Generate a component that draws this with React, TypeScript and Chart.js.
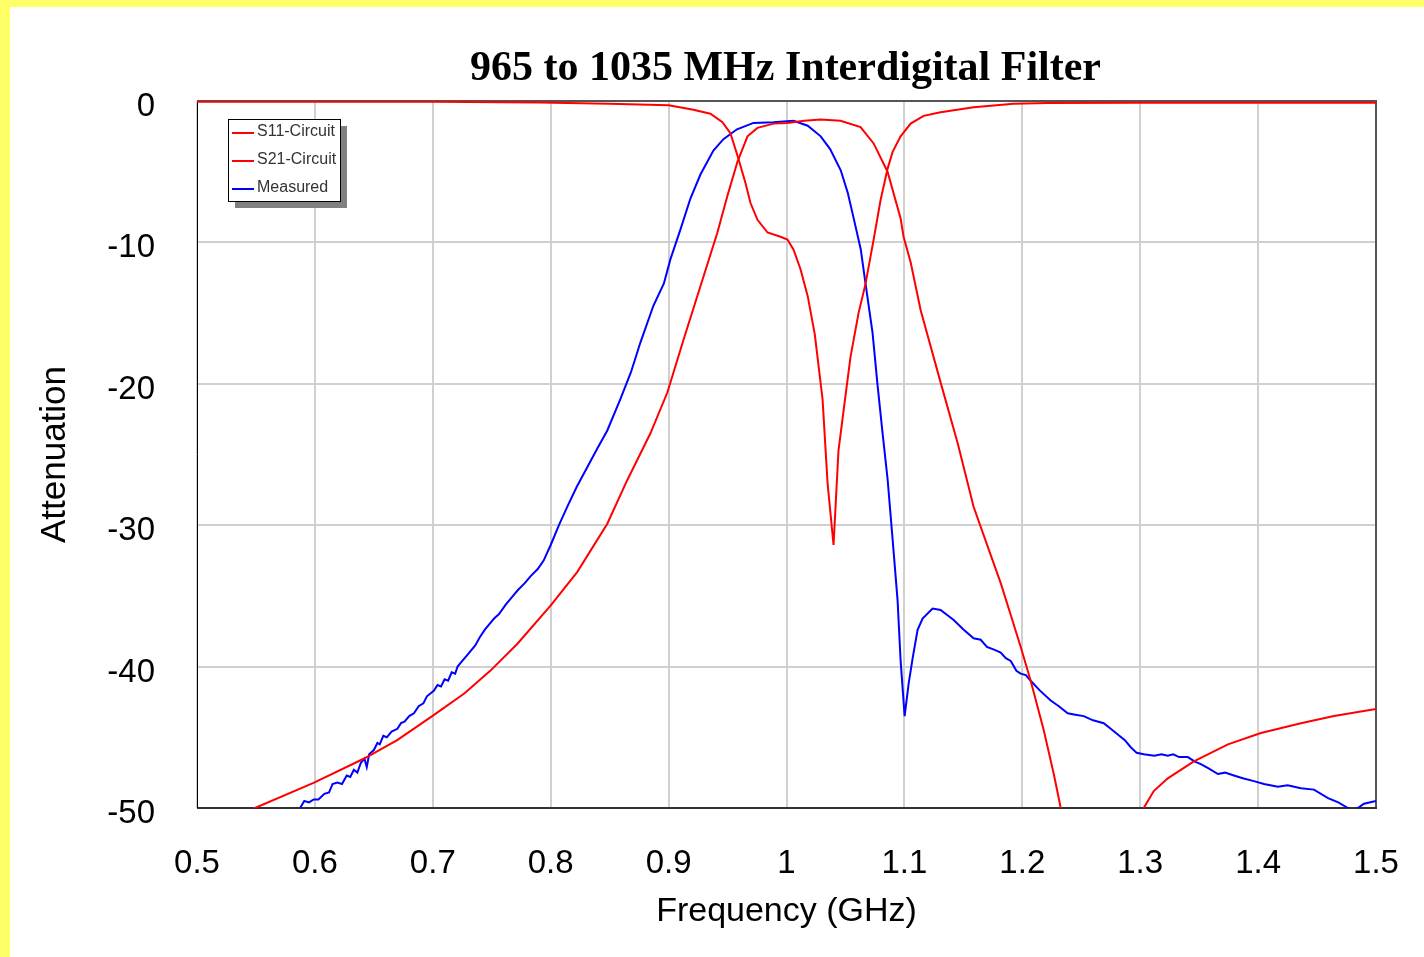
import React, { useEffect, useRef } from 'react';
import { Chart, registerables } from 'chart.js';

Chart.register(...registerables);

const chartTitle = '965 to 1035 MHz Interdigital Filter';
const xAxisTitle = 'Frequency (GHz)';
const yAxisTitle = 'Attenuation';
const xTickLabels = ['0.5', '0.6', '0.7', '0.8', '0.9', '1', '1.1', '1.2', '1.3', '1.4', '1.5'];
const yTickLabels = ['-50', '-40', '-30', '-20', '-10', '0'];
const seriesNames = ['S11-Circuit', 'S21-Circuit', 'Measured'];
const seriesColors = ['#ff0000', '#ff0000', '#0000ff'];

const s11Freq = [0.5, 0.7, 0.79, 0.85, 0.9, 0.92, 0.9355, 0.9457, 0.9525, 0.9593, 0.9652, 0.9694, 0.9754, 0.9839, 0.9949, 1.0008, 1.0059, 1.0119, 1.018, 1.024, 1.0306, 1.0348, 1.0399, 1.0441, 1.0501, 1.0543, 1.0611, 1.0671, 1.0739, 1.0798, 1.0857, 1.09, 1.0968, 1.1053, 1.1163, 1.1307, 1.1587, 1.1927, 1.2216, 1.3, 1.5];
const s11Db = [-0.05, -0.06, -0.1, -0.2, -0.3, -0.6, -0.9, -1.5, -2.3, -4.1, -5.8, -7.2, -8.4, -9.3, -9.6, -9.8, -10.5, -11.9, -13.8, -16.5, -21.1, -27, -31.4, -24.7, -20.8, -18.1, -15, -12.9, -9.8, -7, -4.8, -3.6, -2.5, -1.6, -1.05, -0.8, -0.45, -0.2, -0.15, -0.12, -0.12];

const s21Freq = [0.5, 0.5492, 0.5993, 0.6418, 0.6698, 0.6995, 0.7267, 0.7487, 0.7716, 0.7997, 0.8226, 0.848, 0.865, 0.8846, 0.899, 0.9126, 0.927, 0.9414, 0.9499, 0.9584, 0.9669, 0.9754, 0.989, 1.0008, 1.015, 1.0289, 1.0458, 1.0628, 1.0739, 1.0857, 1.0968, 1.0993, 1.1053, 1.1138, 1.1307, 1.1452, 1.1587, 1.1749, 1.1817, 1.19, 1.1986, 1.2071, 1.2182, 1.2267, 1.2326, 1.255, 1.28, 1.303, 1.3115, 1.3234, 1.3455, 1.3744, 1.4024, 1.4363, 1.4643, 1.5];
const s21Db = [-51.8, -50, -48.2, -46.5, -45.2, -43.5, -41.9, -40.3, -38.4, -35.7, -33.3, -29.9, -26.8, -23.5, -20.6, -16.9, -13.1, -9.3, -6.7, -4.3, -2.5, -1.9, -1.6, -1.55, -1.4, -1.3, -1.4, -1.85, -3.0, -5.0, -8.3, -9.6, -11.4, -14.8, -19.9, -24.2, -28.7, -32.5, -34.1, -36.3, -38.6, -41.0, -44.5, -47.6, -50, -58, -56, -50, -48.8, -47.9, -46.7, -45.5, -44.7, -44.0, -43.5, -43.0];

const measFreq = [0.587, 0.5874, 0.591, 0.595, 0.599, 0.603, 0.608, 0.612, 0.615, 0.619, 0.623, 0.627, 0.63, 0.633, 0.636, 0.639, 0.642, 0.644, 0.646, 0.65, 0.653, 0.655, 0.658, 0.661, 0.665, 0.67, 0.673, 0.676, 0.68, 0.684, 0.688, 0.692, 0.695, 0.698, 0.701, 0.704, 0.707, 0.71, 0.713, 0.716, 0.719, 0.721, 0.725, 0.729, 0.732, 0.736, 0.74, 0.744, 0.748, 0.752, 0.756, 0.762, 0.767, 0.772, 0.778, 0.783, 0.789, 0.794, 0.8, 0.807, 0.814, 0.822, 0.831, 0.84, 0.848, 0.859, 0.868, 0.876, 0.887, 0.896, 0.9015, 0.91, 0.9185, 0.927, 0.938, 0.9465, 0.958, 0.972, 0.989, 1.006, 1.018, 1.029, 1.037, 1.046, 1.052, 1.057, 1.063, 1.067, 1.073, 1.077, 1.0815, 1.0857, 1.09, 1.0942, 1.0968, 1.1002, 1.1036, 1.107, 1.1112, 1.1154, 1.1239, 1.1307, 1.1418, 1.1503, 1.1587, 1.1647, 1.17, 1.176, 1.1817, 1.186, 1.1902, 1.195, 1.1986, 1.203, 1.2071, 1.215, 1.2241, 1.231, 1.2385, 1.245, 1.2521, 1.26, 1.2691, 1.275, 1.281, 1.287, 1.292, 1.297, 1.303, 1.312, 1.318, 1.3234, 1.328, 1.333, 1.3404, 1.346, 1.3514, 1.358, 1.3659, 1.372, 1.3795, 1.387, 1.3964, 1.405, 1.4168, 1.425, 1.4363, 1.4474, 1.4593, 1.468, 1.4762, 1.4813, 1.4898, 1.5];
const measDb = [-50.2, -50, -49.5, -49.6, -49.4, -49.4, -49.0, -48.9, -48.3, -48.2, -48.3, -47.7, -47.8, -47.3, -47.5, -46.8, -46.5, -47.1, -46.2, -45.9, -45.4, -45.5, -44.9, -45.0, -44.6, -44.4, -44.0, -43.9, -43.5, -43.3, -42.8, -42.6, -42.1, -41.9, -41.7, -41.3, -41.4, -40.9, -41.0, -40.4, -40.5, -40.0, -39.6, -39.2, -38.9, -38.5, -37.9, -37.4, -37.0, -36.6, -36.3, -35.6, -35.1, -34.6, -34.1, -33.6, -33.1, -32.5, -31.4, -30.0, -28.7, -27.3, -25.9, -24.5, -23.3, -21.1, -19.2, -17.1, -14.5, -12.9, -11.2, -9.1, -6.9, -5.2, -3.5, -2.7, -2.0, -1.55, -1.5, -1.4, -1.75, -2.5, -3.4, -4.9, -6.5, -8.3, -10.5, -12.9, -16.4, -19.9, -23.5, -26.7, -31.0, -35.3, -39.6, -43.5, -41.2, -39.4, -37.4, -36.6, -35.9, -36.0, -36.7, -37.4, -38.0, -38.1, -38.6, -38.8, -39.0, -39.4, -39.6, -40.3, -40.5, -40.6, -41.0, -41.7, -42.4, -42.8, -43.3, -43.4, -43.5, -43.8, -44.0, -44.4, -44.8, -45.2, -45.7, -46.1, -46.2, -46.3, -46.2, -46.3, -46.2, -46.4, -46.4, -46.7, -46.9, -47.2, -47.6, -47.5, -47.7, -47.9, -48.1, -48.3, -48.5, -48.4, -48.6, -48.7, -49.3, -49.6, -50.0, -50.2, -49.7, -49.5];

const toPoints = (xs: number[], ys: number[]) => xs.map((x, i) => ({ x, y: ys[i] }));

const framePlugin = {
  id: 'frame',
  beforeDraw(chart: any) {
    const { ctx, width, height } = chart;
    ctx.save();
    ctx.fillStyle = '#ffffff';
    ctx.fillRect(0, 0, width, height);
    ctx.fillStyle = '#ffff66';
    ctx.fillRect(0, 0, width, 7);
    ctx.fillRect(0, 0, 10, height);
    ctx.restore();
  },
  beforeDatasetsDraw(chart: any) {
    const { ctx, chartArea: a } = chart;
    ctx.save();
    ctx.lineWidth = 2;
    ctx.strokeStyle = '#555555';
    ctx.beginPath();
    ctx.moveTo(a.left, a.top);
    ctx.lineTo(a.right, a.top);
    ctx.lineTo(a.right, a.bottom);
    ctx.stroke();
    ctx.strokeStyle = '#333333';
    ctx.beginPath();
    ctx.moveTo(a.left, a.bottom);
    ctx.lineTo(a.right + 1, a.bottom);
    ctx.stroke();
    ctx.lineWidth = 1;
    ctx.strokeStyle = '#000000';
    ctx.beginPath();
    ctx.moveTo(a.left + 0.5, a.top);
    ctx.lineTo(a.left + 0.5, a.bottom);
    ctx.stroke();
    ctx.restore();
  },
  afterDraw(chart: any) {
    const { ctx, chartArea: a } = chart;
    ctx.save();
    // title
    ctx.fillStyle = '#000000';
    ctx.font = 'bold 42px "Liberation Serif", "Times New Roman", serif';
    ctx.textAlign = 'center';
    ctx.textBaseline = 'alphabetic';
    ctx.fillText(chartTitle, (a.left + a.right) / 2 - 1, 80);
    // legend
    const bx = 228, by = 119, bw = 112, bh = 82;
    ctx.fillStyle = '#808080';
    ctx.fillRect(bx + 7, by + 7, bw, bh);
    ctx.fillStyle = '#ffffff';
    ctx.fillRect(bx, by, bw, bh);
    ctx.strokeStyle = '#000000';
    ctx.lineWidth = 1;
    ctx.strokeRect(bx + 0.5, by + 0.5, bw, bh);
    ctx.font = '16px "Liberation Sans", Arial, sans-serif';
    ctx.textAlign = 'left';
    ctx.textBaseline = 'middle';
    chart.data.datasets.forEach((ds: any, i: number) => {
      const y = by + 14 + i * 28;
      ctx.strokeStyle = ds.borderColor;
      ctx.lineWidth = 2;
      ctx.beginPath();
      ctx.moveTo(bx + 4, y);
      ctx.lineTo(bx + 26, y);
      ctx.stroke();
      ctx.fillStyle = '#333333';
      ctx.fillText(ds.label, bx + 29, y - 1);
    });
    ctx.restore();
  },
};

export default function App() {
  const canvasRef = useRef<HTMLCanvasElement | null>(null);

  useEffect(() => {
    const canvas = canvasRef.current;
    if (!canvas) return;
    const chart = new Chart(canvas, {
      type: 'line',
      data: {
        datasets: [
          { label: seriesNames[0], data: toPoints(s11Freq, s11Db), borderColor: seriesColors[0] },
          { label: seriesNames[1], data: toPoints(s21Freq, s21Db), borderColor: seriesColors[1] },
          { label: seriesNames[2], data: toPoints(measFreq, measDb), borderColor: seriesColors[2] },
        ].map((d) => ({ ...d, borderWidth: 2, pointRadius: 0, fill: false, tension: 0 })),
      },
      options: {
        animation: false,
        responsive: false,
        devicePixelRatio: 1,
        layout: { padding: { left: 10, top: 101, right: 48, bottom: 0 } },
        plugins: { legend: { display: false }, title: { display: false }, tooltip: { enabled: false } },
        scales: {
          x: {
            type: 'linear',
            min: 0.5,
            max: 1.5,
            afterFit: (s: any) => { s.height = 149; s.paddingLeft = 0; s.paddingRight = 0; },
            ticks: {
              stepSize: 0.1,
              padding: 36,
              color: '#000000',
              font: { family: '"Liberation Sans", Arial, sans-serif', size: 33 },
              maxRotation: 0,
              autoSkip: false,
              callback: (_v: any, i: number) => xTickLabels[i],
            },
            grid: { color: '#d0d0d0', lineWidth: 2, drawTicks: false },
            border: { display: false },
            title: {
              display: true,
              text: xAxisTitle,
              color: '#000000',
              font: { family: '"Liberation Sans", Arial, sans-serif', size: 34 },
              padding: { top: 0, bottom: 24.6 },
            },
          },
          y: {
            type: 'linear',
            min: -50,
            max: 0,
            afterFit: (s: any) => { s.width = 187; s.paddingTop = 0; s.paddingBottom = 0; },
            ticks: {
              stepSize: 10,
              padding: 42,
              labelOffset: 6,
              color: '#000000',
              font: { family: '"Liberation Sans", Arial, sans-serif', size: 33 },
              callback: (_v: any, i: number) => yTickLabels[i],
            },
            grid: { color: '#d0d0d0', lineWidth: 2, drawTicks: false },
            border: { display: false },
            title: {
              display: true,
              text: yAxisTitle,
              color: '#000000',
              font: { family: '"Liberation Sans", Arial, sans-serif', size: 35 },
              padding: { top: 24, bottom: 0 },
            },
          },
        },
      },
      plugins: [framePlugin],
    } as any);
    return () => chart.destroy();
  }, []);

  return (
    <div style={{ position: 'absolute', left: 0, top: 0, width: 1424, height: 957 }}>
      <canvas ref={canvasRef} width={1424} height={957} style={{ display: 'block' }} />
    </div>
  );
}
